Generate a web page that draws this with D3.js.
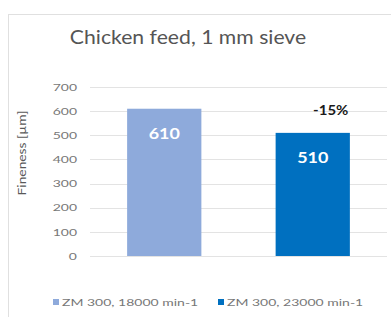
<!DOCTYPE html>
<html>
<head>
<meta charset="utf-8">
<script src="https://cdn.jsdelivr.net/npm/d3@7"></script>
<style>
  html, body { margin: 0; padding: 0; background: #fff; }
  svg { display: block; font-family: Lato, "Open Sans", sans-serif; }
</style>
</head>
<body>
<div id="chart"></div>
<script>
// data
var categories = ["ZM 300, 18000 min-1", "ZM 300, 23000 min-1"];
var values = [610, 510];
var barColors = ["#8eaadb", "#0070c0"];
var yTicks = [0, 100, 200, 300, 400, 500, 600, 700];
var changeLabel = "-15%";

var W = 391, H = 317;
var plot = { left: 90, right: 387, top: 87, bottom: 256 };
var stretch = 1.4; // the source picture is squeezed wide, so small text is stretched

var svg = d3.select("#chart").append("svg")
    .attr("width", W)
    .attr("height", H);

// outer frame
svg.append("rect")
    .attr("x", 8.5).attr("y", 14.5)
    .attr("width", 400).attr("height", 320)
    .attr("fill", "#fff")
    .attr("stroke", "#e0e0e0");

var x = d3.scaleBand()
    .domain(categories)
    .range([plot.left, plot.right])
    .paddingInner(0.5)
    .paddingOuter(0.25);

var y = d3.scaleLinear()
    .domain([0, 700])
    .range([plot.bottom, plot.top]);

// gridlines
svg.append("g")
    .selectAll("line")
    .data(yTicks)
    .join("line")
    .attr("x1", plot.left).attr("x2", plot.right)
    .attr("y1", function (d) { return Math.round(y(d)) + 0.5; })
    .attr("y2", function (d) { return Math.round(y(d)) + 0.5; })
    .attr("stroke", "#e3e3e3");

// y axis labels (axis for positions, text stretched sideways)
var yAxis = d3.axisLeft(y).tickValues(yTicks).tickSize(0).tickPadding(0);
var ya = svg.append("g")
    .attr("transform", "translate(77,0)")
    .call(yAxis);
ya.select(".domain").remove();
ya.selectAll("text")
    .attr("x", null)
    .attr("transform", "scale(" + stretch + ",1)")
    .attr("font-family", "Lato, sans-serif")
    .attr("font-size", 10)
    .attr("fill", "#777");

// bars
svg.append("g")
    .selectAll("rect")
    .data(values)
    .join("rect")
    .attr("x", function (d, i) { return x(categories[i]); })
    .attr("y", function (d) { return y(d); })
    .attr("width", x.bandwidth())
    .attr("height", function (d) { return y(0) - y(d); })
    .attr("fill", function (d, i) { return barColors[i]; });

// value labels
svg.append("g")
    .selectAll("text")
    .data(values)
    .join("text")
    .attr("transform", function (d, i) {
        return "translate(" + (x(categories[i]) + x.bandwidth() / 2) + "," + (y(d) + 30) + ") scale(1.12,1)";
    })
    .attr("text-anchor", "middle")
    .attr("font-size", 16)
    .attr("font-weight", "bold")
    .attr("fill", "#fff")
    .text(function (d) { return d; });

// change label
svg.append("text")
    .attr("transform", "translate(" + (x(categories[1]) + x.bandwidth() / 2 + 18) + "," + (y(values[0]) + 6) + ") scale(1.2,1)")
    .attr("text-anchor", "middle")
    .attr("font-size", 12.5)
    .attr("font-weight", "bold")
    .attr("fill", "#1a1a1a")
    .text(changeLabel);

// title
svg.append("text")
    .attr("transform", "translate(188,44) scale(1.06,1)")
    .attr("text-anchor", "middle")
    .attr("font-size", 20)
    .attr("fill", "#555")
    .text("Chicken feed, 1 mm sieve");

// y axis title
svg.append("text")
    .attr("transform", "translate(26,153) rotate(-90) scale(1.15,1)")
    .attr("text-anchor", "middle")
    .attr("font-size", 12)
    .attr("fill", "#595959")
    .text("Fineness [µm]");

// legend
var legendX = [53, 218];
var lg = svg.append("g")
    .selectAll("g")
    .data(categories)
    .join("g")
    .attr("transform", function (d, i) { return "translate(" + legendX[i] + ",302)"; });
lg.append("rect")
    .attr("x", 0).attr("y", -3)
    .attr("width", 6).attr("height", 6)
    .attr("fill", function (d, i) { return barColors[i]; });
lg.append("text")
    .attr("transform", "translate(9,3.5) scale(" + stretch + ",1)")
    .attr("font-size", 10)
    .attr("fill", "#777")
    .text(function (d) { return d; });
</script>
</body>
</html>
